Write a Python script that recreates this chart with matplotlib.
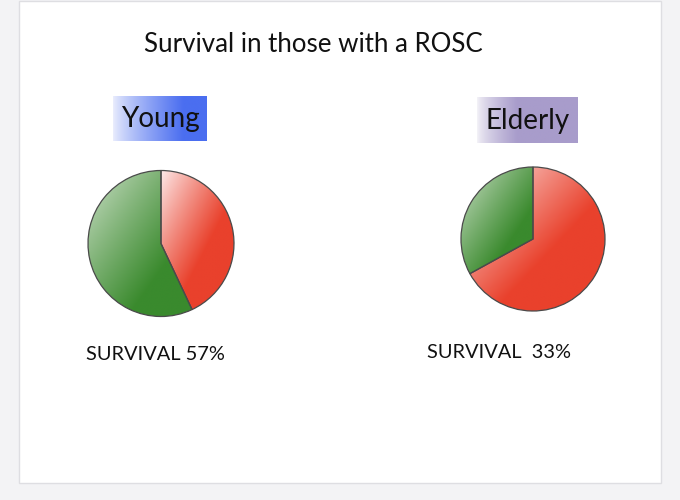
import numpy as np
import matplotlib
matplotlib.use("Agg")
import matplotlib.pyplot as plt
from matplotlib.patches import Rectangle

# ---- data ----
title = "Survival in those with a ROSC"
groups = ["Young", "Elderly"]
survival = [57, 33]
non_survival = [43, 67]
survival_labels = ["SURVIVAL 57%", "SURVIVAL  33%"]

plt.rcParams['font.family'] = ['Lato', 'DejaVu Sans']

W, H = 680, 500
fig = plt.figure(figsize=(W / 100, H / 100), dpi=100, facecolor='#f3f3f5')
ax = fig.add_axes([0, 0, 1, 1])
ax.set_facecolor('none')

def Y(y):
    return H - y

# slide
ax.add_patch(Rectangle((19, Y(483)), 642, 482, facecolor='white',
                       edgecolor='#dedee2', lw=1.0, zorder=0))

ax.text(313, Y(44), title, ha='center', va='center', fontsize=18.6, color='#111111')

pie_centers = [(161, 243.5), (533, 239)]
pie_r = [73, 72]
box_ext = [(113, 96, 207, 141), (477, 97, 578, 143)]
box_cols = [np.array([75, 110, 240]) / 255, np.array([168, 156, 203]) / 255]
lab_pos = [(155, 355), (499, 352)]

red_light = np.array([253, 236, 236]) / 255
red_dark = np.array([233, 65, 44]) / 255
green_light = np.array([208, 226, 204]) / 255
green_dark = np.array([58, 138, 45]) / 255

def grad_fill(wedge, light, dark, k):
    bb = wedge.get_path().get_extents()
    x0, y0, x1, y1 = bb.x0, bb.y0, bb.x1, bb.y1
    n = 200
    u = np.linspace(0, 1, n)[None, :]
    v = np.linspace(0, 1, n)[:, None]
    t = np.clip((u + v) / 2 * k, 0, 1) ** 0.9
    img = light[None, None, :] + (dark - light)[None, None, :] * t[..., None]
    im = ax.imshow(img, extent=[x0, x1, y0, y1], origin='upper',
                   interpolation='bilinear', zorder=2, aspect='auto')
    im.set_clip_path(wedge)

for i, g in enumerate(groups):
    cx, cy = pie_centers[i]
    wedges, _ = ax.pie([non_survival[i], survival[i]], center=(cx, Y(cy)),
                       radius=pie_r[i], startangle=90, counterclock=False,
                       colors=['none', 'none'],
                       wedgeprops=dict(edgecolor='#4a4a4a', linewidth=0.9, zorder=3))
    grad_fill(wedges[0], red_light, red_dark, 1.7)
    grad_fill(wedges[1], green_light, green_dark, 1.45)

    # label box with horizontal gradient
    bx0, by0, bx1, by1 = box_ext[i]
    n = 200
    u = np.linspace(0, 1, n)[None, :]
    if i == 0:
        t = np.clip(u / 0.75, 0, 1) ** 0.8
        start = np.array([235, 238, 253]) / 255
    else:
        t = np.clip(u / 0.4, 0, 1) ** 0.7
        start = np.array([245, 244, 248]) / 255
    img = start[None, None, :] + (box_cols[i] - start)[None, None, :] * t[..., None]
    img = np.repeat(img, 2, axis=0)
    ax.imshow(img, extent=[bx0, bx1, Y(by1), Y(by0)], origin='upper',
              interpolation='bilinear', zorder=2, aspect='auto')
    ax.text((bx0 + bx1) / 2, Y((by0 + by1) / 2 + 1), g, ha='center', va='center',
            fontsize=20, color='#111111', zorder=4)

    lx, ly = lab_pos[i]
    ax.text(lx, Y(ly), survival_labels[i], ha='center', va='center',
            fontsize=14.4, color='#111111', zorder=4)

ax.set_xlim(0, W)
ax.set_ylim(0, H)
ax.set_aspect('auto')
ax.axis('off')
fig.savefig('out.png', dpi=100, facecolor=fig.get_facecolor())
